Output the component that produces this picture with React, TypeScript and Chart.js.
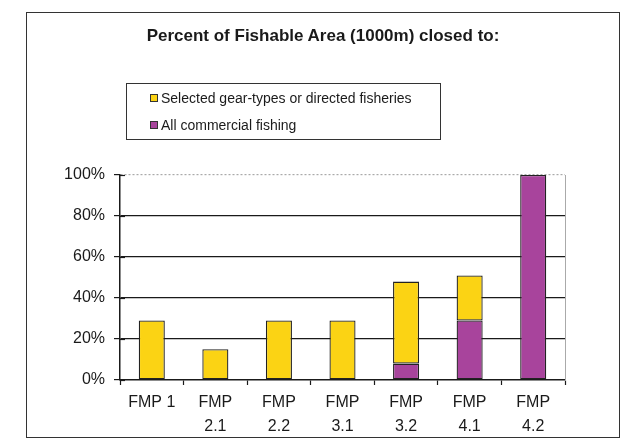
import React, { useEffect, useRef } from "react";
import { Chart, registerables } from "chart.js";

Chart.register(...registerables);

// Fishery management plans along the x axis
const categories: (string | string[])[] = [
  "FMP 1",
  ["FMP", "2.1"],
  ["FMP", "2.2"],
  ["FMP", "3.1"],
  ["FMP", "3.2"],
  ["FMP", "4.1"],
  ["FMP", "4.2"],
];

// Percent of fishable area closed to all commercial fishing (stacked at the base)
const allCommercial = [0, 0, 0, 0, 8, 29, 100];
// Percent closed to selected gear-types or directed fisheries (stacked on top)
const selectedGear = [29, 15, 29, 29, 40, 22, 0];

const titleText = "Percent of Fishable Area (1000m) closed to:";
const selectedLabel = "Selected gear-types or directed fisheries";
const allLabel = "All commercial fishing";

const yellow = "#FBD314";
const purple = "#A8449C";
const ink = "#1a1a1a";
const FONT = "'Liberation Sans', Arial, Helvetica, sans-serif";

// Short stubs on the right side of the y axis so each tick crosses the axis line
const tickStubs = {
  id: "tickStubs",
  afterDraw(chart: any) {
    const scale = chart.scales.y;
    const ctx = chart.ctx;
    ctx.save();
    ctx.strokeStyle = ink;
    ctx.lineWidth = 1.2;
    scale.ticks.forEach((_t: any, i: number) => {
      const y = Math.round(scale.getPixelForTick(i)) + 0.5;
      ctx.beginPath();
      ctx.moveTo(scale.right, y);
      ctx.lineTo(scale.right + 5, y);
      ctx.stroke();
    });
    ctx.restore();
  },
};

export default function App() {
  const canvasRef = useRef<HTMLCanvasElement | null>(null);

  useEffect(() => {
    if (!canvasRef.current) return;
    const chart = new Chart(canvasRef.current, {
      type: "bar",
      data: {
        labels: categories,
        datasets: [
          {
            label: allLabel,
            data: allCommercial,
            backgroundColor: purple,
            borderColor: "#222",
            borderWidth: 1.3,
            borderSkipped: false,
          },
          {
            label: selectedLabel,
            data: selectedGear,
            backgroundColor: yellow,
            borderColor: "#222",
            borderWidth: 1.3,
            borderSkipped: false,
          },
        ],
      },
      options: {
        responsive: false,
        animation: false,
        devicePixelRatio: 1,
        layout: { padding: { left: 64, top: 175, right: 62, bottom: 0 } },
        plugins: {
          legend: { display: false },
          title: { display: false },
          tooltip: { enabled: false },
        },
        datasets: {
          bar: { categoryPercentage: 1, barPercentage: 0.41 },
        },
        scales: {
          x: {
            stacked: true,
            afterFit: (s: any) => {
              s.height = 62;
            },
            grid: {
              offset: true,
              drawOnChartArea: false,
              tickLength: 5,
              tickColor: ink,
              tickWidth: 1.2,
            },
            border: { display: true, color: ink, width: 1.5 },
            ticks: {
              color: ink,
              padding: 6,
              maxRotation: 0,
              autoSkip: false,
              font: { family: FONT, size: 16, lineHeight: 1.5 },
            },
          },
          y: {
            stacked: true,
            min: 0,
            max: 100,
            afterFit: (s: any) => {
              s.width = 56;
            },
            grid: {
              color: (c: any) => {
                const v = c.tick ? c.tick.value : -1;
                if (v === 100) return "#aaaaaa";
                if (v > 0 && v % 20 === 0) return ink;
                return "rgba(0,0,0,0)";
              },
              lineWidth: 1.2,
              tickLength: 6,
              tickColor: ink,
              tickWidth: 1.2,
            },
            border: {
              display: true,
              color: ink,
              width: 1.5,
              dash: (c: any) => (c.tick && c.tick.value === 100 ? [2, 2] : []),
            },
            ticks: {
              stepSize: 10,
              padding: 9,
              color: ink,
              font: { family: FONT, size: 16 },
              callback: (v: any) => (Number(v) % 20 === 0 ? `${v}%` : ""),
            },
          },
          y2: {
            position: "right",
            min: 0,
            max: 100,
            afterFit: (s: any) => {
              s.width = 0;
            },
            grid: { display: false, drawTicks: false },
            ticks: { display: false },
            border: { display: true, color: "#aaaaaa", width: 1, dash: [2, 2] },
          },
        },
      },
      plugins: [tickStubs],
    });
    return () => chart.destroy();
  }, []);

  const legendRows = [
    { label: selectedLabel, color: yellow, top: 98 },
    { label: allLabel, color: purple, top: 125 },
  ];

  return (
    <div
      style={{
        position: "absolute",
        left: 0,
        top: 0,
        width: 627,
        height: 442,
        background: "#fff",
        fontFamily: FONT,
        color: ink,
      }}
    >
      <div
        style={{
          position: "absolute",
          left: 26,
          top: 12,
          width: 592,
          height: 424,
          border: "1.5px solid #333",
        }}
      />
      <canvas
        ref={canvasRef}
        width={627}
        height={442}
        style={{ position: "absolute", left: 0, top: 0, width: 627, height: 442 }}
      />
      <div
        style={{
          position: "absolute",
          left: 26,
          width: 594,
          top: 26,
          lineHeight: "20px",
          fontSize: 17,
          fontWeight: "bold",
          textAlign: "center",
        }}
      >
        {titleText}
      </div>
      <div
        style={{
          position: "absolute",
          left: 126,
          top: 83,
          width: 313,
          height: 55,
          border: "1px solid #333",
        }}
      />
      {legendRows.map((r) => (
        <React.Fragment key={r.label}>
          <div
            style={{
              position: "absolute",
              left: 150,
              top: r.top - 4,
              width: 6,
              height: 6,
              background: r.color,
              border: "1px solid #333",
            }}
          />
          <div
            style={{
              position: "absolute",
              left: 161,
              top: r.top - 9,
              lineHeight: "18px",
              fontSize: 14,
              whiteSpace: "nowrap",
            }}
          >
            {r.label}
          </div>
        </React.Fragment>
      ))}
    </div>
  );
}
